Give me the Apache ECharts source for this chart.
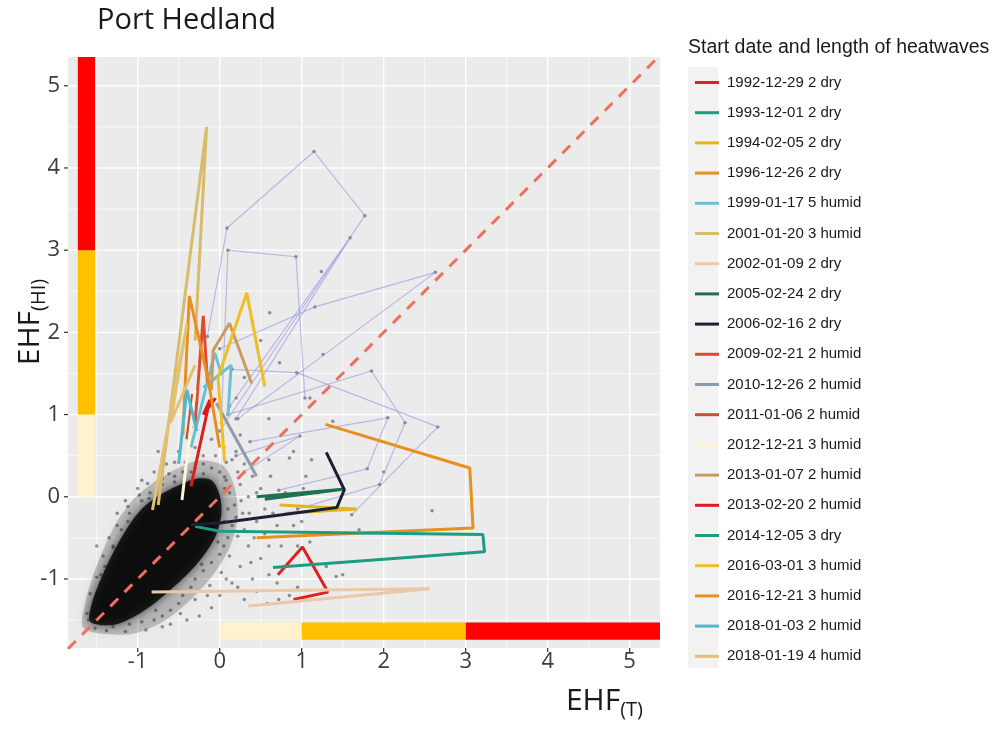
<!DOCTYPE html>
<html>
<head>
<meta charset="utf-8">
<script src="https://cdn.jsdelivr.net/npm/echarts@6/dist/echarts.min.js"></script>
<style>
  html, body { margin: 0; padding: 0; background: #ffffff; }
  #chart { width: 993px; height: 731px; }
</style>
</head>
<body>
<div id="chart"></div>
<script>
// Axis extents and tick values (EHF units)
const xRange = [-1.85, 5.37];
const yRange = [-1.84, 5.35];
const majorTicks = [-1, 0, 1, 2, 3, 4, 5];
const minorTicks = [-1.5, -0.5, 0.5, 1.5, 2.5, 3.5, 4.5];
const tickLabels = ['-1', '0', '1', '2', '3', '4', '5'];

// Heatwave severity thresholds shown as coloured bands along both axes
const bandBreaks = [0, 1, 3];

// Heatwave trajectories: [EHF(T), EHF(HI)] for consecutive days
const heatwaveLabels = [
  '1992-12-29 2 dry', '1993-12-01 2 dry', '1994-02-05 2 dry', '1996-12-26 2 dry',
  '1999-01-17 5 humid', '2001-01-20 3 humid', '2002-01-09 2 dry', '2005-02-24 2 dry',
  '2006-02-16 2 dry', '2009-02-21 2 humid', '2010-12-26 2 humid', '2011-01-06 2 humid',
  '2012-12-21 3 humid', '2013-01-07 2 humid', '2013-02-20 2 humid', '2014-12-05 3 dry',
  '2016-03-01 3 humid', '2016-12-21 3 humid', '2018-01-03 2 humid', '2018-01-19 4 humid'
];
const hw1992_12_29 = [[0.71, -0.95], [1.01, -0.61], [1.32, -1.16], [0.9, -1.25]];
const hw1993_12_01 = [[-0.3, -0.36], [0.0, -0.42]];
const hw1994_02_05 = [[0.73, -0.1], [1.67, -0.15], [0.8, -0.2]];
const hw1996_12_26 = [[1.29, 0.88], [3.05, 0.35], [3.09, -0.38], [0.45, -0.5]];
const hw1999_01_17 = [[-0.35, 0.6], [-0.06, 1.75], [0.02, 1.5], [-0.2, 1.33], [0.14, 1.6], [0.1, 0.98]];
const hw2001_01_20 = [[-0.75, -0.1], [-0.16, 4.5], [-0.3, 1.9]];
const hw2002_01_09 = [[-0.83, -1.16], [2.56, -1.12], [0.35, -1.33]];
const hw2005_02_24 = [[0.45, 0.0], [1.5, 0.09], [0.55, -0.03]];
const hw2006_02_16 = [[-0.35, -0.34], [0.0, -0.32], [1.43, -0.13], [1.52, 0.085], [1.3, 0.54]];
const hw2009_02_21 = [[-0.3, 0.9], [-0.2, 2.2], [-0.15, 1.4]];
const hw2010_12_26 = [[-0.04, 1.14], [0.45, 0.25]];
const hw2011_01_06 = [[-0.4, 0.7], [-0.33, 1.25]];
const hw2012_12_21 = [[-0.46, -0.04], [-0.3, 1.3]];
const hw2013_01_07 = [[-0.1, 1.3], [-0.08, 1.78], [0.12, 2.11], [0.39, 1.38]];
const hw2013_02_20 = [[-0.35, 0.13], [-0.12, 1.18], [-0.2, 1.0], [-0.05, 1.2]];
const hw2014_12_05 = [[0.0, -0.42], [3.21, -0.46], [3.23, -0.67], [0.65, -0.86]];
const hw2016_03_01 = [[0.06, 0.43], [-0.02, 1.45], [0.33, 2.48], [0.55, 1.34]];
const hw2016_12_21 = [[-0.45, 0.75], [-0.37, 2.44], [-0.14, 1.42], [0.0, 0.6]];
const hw2018_01_03 = [[-0.5, 0.4], [-0.4, 1.3], [-0.28, 0.8]];
const hw2018_01_19 = [[-0.82, -0.16], [-0.4, 2.1], [-0.6, 0.9], [-0.3, 1.6]];
const heatwaveTracks = [
  hw1992_12_29, hw1993_12_01, hw1994_02_05, hw1996_12_26, hw1999_01_17,
  hw2001_01_20, hw2002_01_09, hw2005_02_24, hw2006_02_16, hw2009_02_21,
  hw2010_12_26, hw2011_01_06, hw2012_12_21, hw2013_01_07, hw2013_02_20,
  hw2014_12_05, hw2016_03_01, hw2016_12_21, hw2018_01_03, hw2018_01_19
];

// Other (unlisted) heatwave trajectories
const other1 = [[-0.15, 1.95], [0.09, 3.27], [1.15, 4.2], [1.77, 3.42], [0.0, 0.8]];
const other2 = [[0.02, 0.9], [0.1, 3.0], [0.93, 2.92], [1.04, 1.2]];
const other3 = [[0.12, 1.1], [1.59, 3.15], [0.2, 0.95]];
const other4 = [[0.0, 1.8], [1.16, 2.31], [2.63, 2.73], [0.22, 0.95]];
const other5 = [[0.1, 1.0], [1.85, 1.53], [2.26, 0.9], [1.95, 0.15], [0.95, -0.15]];
const other6 = [[0.15, 1.55], [0.94, 1.51], [2.66, 0.85], [1.61, -0.22]];
const other7 = [[0.37, 0.67], [2.05, 0.96], [1.8, 0.34], [0.72, 0.08]];
const other8 = [[0.2, 0.5], [0.98, 0.74], [0.3, 0.3]];
const otherTracks = [other1, other2, other3, other4, other5, other6, other7, other8];

// Daily values: outline of the dense bulk of days, its fringe, and individual days
const cloudFringe = [
  [-1.66, -1.6], [-1.64, -1.3], [-1.54, -0.95], [-1.4, -0.6], [-1.24, -0.28],
  [-1.04, -0.02], [-0.8, 0.18], [-0.52, 0.34], [-0.25, 0.44], [0.04, 0.38],
  [0.18, 0.12], [0.22, -0.25], [0.12, -0.62], [-0.08, -0.95], [-0.32, -1.22],
  [-0.6, -1.46], [-0.9, -1.62], [-1.2, -1.68]
];
const cloudCore = [
  [-1.58, -1.52], [-1.56, -1.3], [-1.47, -1.05], [-1.34, -0.76], [-1.2, -0.5],
  [-1.06, -0.28], [-0.9, -0.1], [-0.7, 0.04], [-0.48, 0.15], [-0.28, 0.22],
  [-0.1, 0.2], [0.0, 0.02], [0.02, -0.22], [-0.05, -0.48], [-0.2, -0.72],
  [-0.4, -0.95], [-0.62, -1.15], [-0.84, -1.33], [-1.06, -1.47], [-1.3, -1.56]
];
const dailyPoints = [
  [-1.45, -1.55], [-1.3, -1.58], [-1.1, -1.55], [-0.95, -1.52], [-0.8, -1.5], [-0.7, -1.45],
  [-0.6, -1.38], [-0.5, -1.3], [-0.45, -1.2], [-0.35, -1.1], [-0.3, -1.0], [-0.2, -0.9],
  [-0.1, -0.8], [0.0, -0.7], [0.05, -0.6], [0.1, -0.5], [0.15, -0.35], [0.2, -0.25],
  [0.18, -0.1], [0.12, 0.05], [0.08, 0.2], [0.0, 0.3], [-0.1, 0.35], [-0.2, 0.4],
  [-0.3, 0.35], [-0.45, 0.3], [-0.55, 0.25], [-0.7, 0.15], [-0.85, 0.05], [-0.95, -0.05],
  [-1.1, -0.2], [-1.2, -0.4], [-1.3, -0.6], [-1.4, -0.85], [-1.45, -1.05], [-1.5, -1.2],
  [-1.55, -1.35], [-1.6, -1.5], [0.3, -0.4], [0.35, -0.6], [0.45, -0.3], [0.5, -0.75],
  [0.6, -0.95], [0.7, -1.05], [0.85, -1.2], [0.95, -1.1], [0.4, -1.0], [0.25, -0.85],
  [0.15, -1.05], [0.3, -1.25], [0.0, -1.2], [-0.1, -1.35], [-0.25, -1.45], [0.5, 0.1],
  [0.4, 0.25], [0.3, 0.4], [0.2, 0.55], [0.05, 0.6], [-0.1, 0.7], [-0.3, 0.6],
  [-0.5, 0.55], [-0.65, 0.4], [-0.8, 0.3], [-1.0, 0.1], [-1.15, -0.05], [1.05, 0.25],
  [1.2, 0.05], [0.9, -0.35], [1.1, -0.55], [0.75, -0.6], [0.6, 0.45], [0.9, 0.55],
  [-0.6, -1.55], [-0.4, -1.5], [-0.75, 0.55], [-0.65, 0.7], [-0.35, 0.85], [0.25, 0.75],
  [0.45, -1.15], [1.3, -0.85], [1.5, -0.95], [1.45, -0.8], [0.65, -0.2], [0.8, 0.05],
  [0.55, -0.45], [0.7, -0.35], [0.35, 0.0], [0.25, 0.15], [1.0, -0.3], [1.12, -0.8],
  [0.61, 2.24], [0.4, 2.13], [1.26, 1.73], [0.73, 1.63], [1.24, 2.74], [2.59, -0.17],
  [0.85, 0.47], [1.12, 0.45], [1.38, 0.92], [1.42, -0.97], [0.3, 1.45], [1.1, 1.2],
  [0.6, 0.95], [2.0, 0.3], [1.7, -0.4], [0.5, 1.9], [0.2, 1.2], [0.06, 0.24],
  [-1.62, -1.42], [-1.58, -1.18], [-1.5, -0.98], [-1.42, -0.72], [-1.35, -0.5], [-1.25, -0.35],
  [-1.12, -0.12], [-0.98, 0.02], [-0.88, 0.16], [-0.62, 0.28], [-0.42, 0.42], [-0.2, 0.5],
  [0.08, 0.42], [0.22, 0.3], [0.26, -0.05], [0.28, -0.2], [0.22, -0.48], [0.12, -0.72],
  [0.02, -0.92], [-0.12, -1.08], [-0.3, -1.25], [-0.48, -1.42], [-0.7, -1.58], [-0.9, -1.62],
  [-1.15, -1.64], [-1.38, -1.63], [-1.52, -1.6], [-0.15, -1.2], [0.08, -1.0], [0.22, -1.1],
  [0.38, -0.8], [0.42, -0.5], [0.36, -0.2], [0.45, 0.05], [0.15, 0.45], [-0.05, 0.5],
  [-0.55, 0.42], [-0.95, 0.2], [-1.25, -0.2], [-1.5, -0.6], [0.55, -0.15], [0.6, -0.6],
  [0.78, -0.85], [0.95, -0.6], [1.02, 0.1], [0.62, 0.25], [0.72, -1.25], [0.58, -1.3],
  [-1.28, -1.4], [-1.05, -1.38], [-0.78, -1.38], [-0.5, -1.15], [-0.22, -0.82], [-0.02, -0.55],
  [0.06, -0.3], [0.06, 0.1], [-0.2, 0.28], [-0.55, 0.18], [-0.86, -0.02], [-1.12, -0.3],
  [-1.3, -0.62], [-1.45, -0.95], [-1.52, -1.25], [-0.35, 0.3], [-0.7, 0.22], [0.1, -0.15]
];

// ---- styling ----
const bandColors = ['#FFF2CC', '#FFC000', '#FF0000'];
const heatwaveColors = [
  '#DD2222', '#1A9E80', '#E6B41E', '#E8901E', '#6CC0D4', '#D8BC6C', '#EBC8A8', '#1E7050',
  '#1E1E34', '#E24A2E', '#8E9CAA', '#C4503A', '#FFF4DA', '#CC9A60', '#DA1E1E', '#1A9E80',
  '#EEBE22', '#E8901E', '#52B8CA', '#E2C272'
];
const LEFT_BAND = [-1.73, -1.52];   // x extent of the vertical band
const BOTTOM_BAND = [-1.74, -1.53]; // y extent of the horizontal band
const labelFont = '22px "Open Sans"';

function bandSpans(limit) {
  return bandBreaks.map((b, i) => [b, i + 1 < bandBreaks.length ? bandBreaks[i + 1] : limit]);
}

function gridLineItem(width) {
  return function (params, api) {
    const v = api.value(0);
    const cs = params.coordSys;
    const px = api.coord([v, yRange[0]])[0];
    const py = api.coord([xRange[0], v])[1];
    const st = { stroke: '#FFFFFF', lineWidth: width };
    return {
      type: 'group', children: [
        { type: 'line', shape: { x1: px, y1: cs.y, x2: px, y2: cs.y + cs.height }, style: st },
        { type: 'line', shape: { x1: cs.x, y1: py, x2: cs.x + cs.width, y2: py }, style: st }
      ]
    };
  };
}

function tickItem(params, api) {
  const v = api.value(0);
  const cs = params.coordSys;
  const px = api.coord([v, yRange[0]])[0];
  const py = api.coord([xRange[0], v])[1];
  const bottom = cs.y + cs.height;
  const text = tickLabels[params.dataIndex];
  const tickStyle = { stroke: '#333333', lineWidth: 1.2 };
  return {
    type: 'group', children: [
      { type: 'line', shape: { x1: cs.x - 4, y1: py, x2: cs.x, y2: py }, style: tickStyle },
      { type: 'line', shape: { x1: px, y1: bottom, x2: px, y2: bottom + 4 }, style: tickStyle },
      { type: 'text', x: cs.x - 8, y: py,
        style: { text: text, fill: '#3C3C3C', font: labelFont, align: 'right', textAlign: 'right', verticalAlign: 'middle', textVerticalAlign: 'middle' } },
      { type: 'text', x: px, y: bottom + 3,
        style: { text: text, fill: '#3C3C3C', font: labelFont, align: 'center', textAlign: 'center', verticalAlign: 'top', textVerticalAlign: 'top' } }
    ]
  };
}

function bandItem(vertical) {
  return function (params, api) {
    const a = api.value(0), b = api.value(1);
    let p1, p2;
    if (vertical) {
      p1 = api.coord([LEFT_BAND[0], b]);
      p2 = api.coord([LEFT_BAND[1], a]);
    } else {
      p1 = api.coord([a, BOTTOM_BAND[1]]);
      p2 = api.coord([b, BOTTOM_BAND[0]]);
    }
    return {
      type: 'rect',
      shape: { x: p1[0], y: p1[1], width: p2[0] - p1[0], height: p2[1] - p1[1] },
      style: { fill: bandColors[params.dataIndex] }
    };
  };
}

// Soft-edged filled outline for a region of densely packed daily points
function densityItem(points, fill, blur) {
  return function (params, api) {
    if (params.dataIndex !== 0) return null;
    return {
      type: 'polygon',
      shape: { points: points.map(p => api.coord(p)), smooth: 0.3 },
      style: { fill: fill, shadowBlur: blur, shadowColor: fill }
    };
  };
}

const series = [];
series.push({ type: 'custom', silent: true, data: minorTicks.map(v => [v, v]), renderItem: gridLineItem(0.7), z: 1 });
series.push({ type: 'custom', silent: true, data: majorTicks.map(v => [v, v]), renderItem: gridLineItem(1.4), z: 1 });
series.push({ type: 'custom', silent: true, clip: false, data: majorTicks.map(v => [v, v]), renderItem: tickItem, z: 1 });
series.push({ type: 'custom', silent: true, data: bandSpans(yRange[1]), renderItem: bandItem(true), z: 2 });
series.push({ type: 'custom', silent: true, data: bandSpans(xRange[1]), renderItem: bandItem(false), z: 2 });
series.push({ type: 'custom', silent: true, data: cloudFringe, renderItem: densityItem(cloudFringe, 'rgba(0,0,0,0.2)', 14), z: 3 });
series.push({ type: 'custom', silent: true, data: cloudCore, renderItem: densityItem(cloudCore, 'rgba(0,0,0,0.8)', 10), z: 3 });
series.push({
  type: 'scatter', silent: true, data: dailyPoints, symbolSize: 3.5, z: 3,
  itemStyle: { color: 'rgba(20,20,20,0.55)' }
});
otherTracks.forEach(track => {
  series.push({
    type: 'line', silent: true, data: track, z: 4,
    symbol: 'circle', symbolSize: 3.5, showSymbol: true,
    lineStyle: { color: 'rgba(150,150,225,0.6)', width: 1.2 },
    itemStyle: { color: '#8A8A9A', borderWidth: 0 }
  });
});
series.push({
  type: 'line', silent: true, z: 5, showSymbol: false,
  data: [xRange[0], xRange[1]].map(v => [v, v]),
  lineStyle: { color: '#EE6F5E', width: 3, type: [11, 9] }
});
heatwaveTracks.forEach((track, i) => {
  series.push({
    name: heatwaveLabels[i], type: 'line', data: track, z: 6,
    showSymbol: false, color: heatwaveColors[i],
    lineStyle: { color: heatwaveColors[i], width: 3 }
  });
});

const chart = echarts.init(document.getElementById('chart'), null, { renderer: 'canvas' });
chart.setOption({
  animation: false,
  backgroundColor: '#ffffff',
  grid: { left: 68, top: 57, right: 333, bottom: 83, show: true, backgroundColor: '#EBEBEB', borderWidth: 0 },
  xAxis: {
    type: 'value', min: xRange[0], max: xRange[1],
    axisLine: { show: false }, axisTick: { show: false }, axisLabel: { show: false }, splitLine: { show: false }
  },
  yAxis: {
    type: 'value', min: yRange[0], max: yRange[1],
    axisLine: { show: false }, axisTick: { show: false }, axisLabel: { show: false }, splitLine: { show: false }
  },
  legend: {
    data: heatwaveLabels, orient: 'vertical', left: 690, top: 70,
    itemWidth: 24, itemHeight: 3, itemGap: 15.2, icon: 'rect', selectedMode: false,
    textStyle: { fontFamily: 'Liberation Sans', fontSize: 15, color: '#1A1A1A', lineHeight: 14, padding: [0, 0, 0, 3] }
  },
  graphic: [
    { type: 'rect', z: -1, shape: { x: 688, y: 67, width: 30, height: 601 }, style: { fill: '#F2F2F2' } },
    { type: 'text', x: 688, y: 48, style: { text: 'Start date and length of heatwaves', font: '19.5px "Liberation Sans"', fill: '#1A1A1A', textAlign: 'left', textVerticalAlign: 'middle' } },
    { type: 'text', x: 97, y: 21, style: { text: 'Port Hedland', font: '29px "Open Sans"', fill: '#1A1A1A', textAlign: 'left', textVerticalAlign: 'middle' } },
    {
      type: 'text', x: 643, y: 703,
      style: {
        text: '{a|EHF}{b|(T)}', textAlign: 'right', textVerticalAlign: 'middle',
        rich: {
          a: { fontFamily: 'Open Sans', fontSize: 30, fill: '#1A1A1A', verticalAlign: 'top', lineHeight: 34 },
          b: { fontFamily: 'Open Sans', fontSize: 20, fill: '#1A1A1A', verticalAlign: 'bottom', lineHeight: 20 }
        }
      }
    },
    {
      type: 'text', x: 32, y: 322, rotation: Math.PI / 2,
      style: {
        text: '{a|EHF}{b|(HI)}', textAlign: 'center', textVerticalAlign: 'middle',
        rich: {
          a: { fontFamily: 'Open Sans', fontSize: 30, fill: '#1A1A1A', verticalAlign: 'top', lineHeight: 34 },
          b: { fontFamily: 'Open Sans', fontSize: 20, fill: '#1A1A1A', verticalAlign: 'bottom', lineHeight: 20 }
        }
      }
    }
  ],
  series: series
});
</script>
</body>
</html>
